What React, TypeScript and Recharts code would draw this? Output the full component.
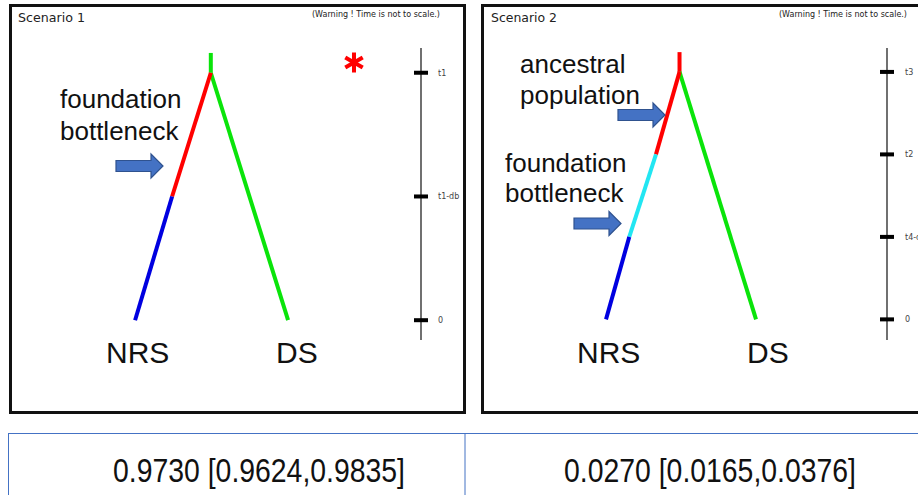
import React from 'react';
import { LineChart, Line, XAxis, YAxis } from 'recharts';

// time ticks on the right-hand scale of each scenario
const scenario1Ticks = [0, 1, 2];
const scenario1TickLabels = ['0', 't1-db', 't1'];
const scenario2Ticks = [0, 1, 2, 3];
const scenario2TickLabels = ['0', 't4-db', 't2', 't3'];

// scenario 1 branches: x = lineage position (NRS = 0, DS = 1), t = time
const s1Stem = [{ x: 0.495, t: 2 }, { x: 0.495, t: 2.16 }];
const s1Ds = [{ x: 0.495, t: 2 }, { x: 1, t: 0 }];
const s1Bottleneck = [{ x: 0.495, t: 2 }, { x: 0.242, t: 1 }];
const s1Nrs = [{ x: 0.242, t: 1 }, { x: 0, t: 0 }];

// scenario 2 branches
const s2Stem = [{ x: 0.49, t: 3 }, { x: 0.49, t: 3.24 }];
const s2Ancestral = [{ x: 0.49, t: 3 }, { x: 0.333, t: 2 }];
const s2Bottleneck = [{ x: 0.333, t: 2 }, { x: 0.155, t: 1 }];
const s2Nrs = [{ x: 0.155, t: 1 }, { x: 0, t: 0 }];
const s2Ds = [{ x: 0.49, t: 3 }, { x: 1, t: 0 }];

// posterior probabilities
const probabilities = ['0.9730 [0.9624,0.9835]', '0.0270 [0.0165,0.0376]'];

const RED = '#ff0000';
const GREEN = '#0ae40a';
const BLUE = '#0000e0';
const CYAN = '#22e6f2';

function makeTick(values: number[], labels: string[], dx: number) {
  return (props: any) => {
    const { x, y, payload } = props;
    const label = labels[values.indexOf(payload.value)] ?? '';
    return (
      <g>
        <rect x={x - 7} y={y - 2} width={14} height={4} fill="#000" />
        <text x={x + dx} y={y + 3} fontSize={8} fontFamily="DejaVu Sans" fill="#444">
          {label}
        </text>
      </g>
    );
  };
}

function Arrow({ x, cy }: { x: number; cy: number }) {
  const len = 47;
  const head = 12;
  const pts = [
    [x, cy - 5.5],
    [x + len - head, cy - 5.5],
    [x + len - head, cy - 12],
    [x + len, cy],
    [x + len - head, cy + 12],
    [x + len - head, cy + 5.5],
    [x, cy + 5.5]
  ]
    .map((p) => p.join(','))
    .join(' ');
  return <polygon points={pts} fill="#4472c4" stroke="#2f528f" strokeWidth={1.2} />;
}

function Branch({ data, color }: { data: { x: number; t: number }[]; color: string }) {
  return (
    <Line
      data={data}
      dataKey="t"
      stroke={color}
      strokeWidth={4}
      dot={false}
      activeDot={false}
      isAnimationActive={false}
    />
  );
}

const bigText = { fontFamily: 'Liberation Sans, Arial, sans-serif', fill: '#111' };

export default function App() {
  return (
    <div
      style={{
        position: 'absolute',
        left: 0,
        top: 0,
        width: 918,
        height: 495,
        overflow: 'hidden',
        background: '#fff'
      }}
    >
      <div style={{ position: 'absolute', left: 28, top: 48 }}>
        <LineChart width={453} height={292} margin={{ top: 0, right: 0, bottom: 0, left: 0 }}>
          <XAxis type="number" dataKey="x" domain={[-0.7, 1.869]} hide allowDataOverflow />
          <YAxis
            orientation="right"
            type="number"
            domain={[-0.16, 2.2]}
            ticks={scenario1Ticks}
            interval={0}
            allowDataOverflow
            width={60}
            tickSize={0}
            tickMargin={0}
            tickLine={false}
            axisLine={{ stroke: '#111', strokeWidth: 1.2 }}
            tick={makeTick(scenario1Ticks, scenario1TickLabels, 17)}
          />
          <Branch data={s1Stem} color={GREEN} />
          <Branch data={s1Ds} color={GREEN} />
          <Branch data={s1Bottleneck} color={RED} />
          <Branch data={s1Nrs} color={BLUE} />
        </LineChart>
      </div>

      <div style={{ position: 'absolute', left: 501, top: 48 }}>
        <LineChart width={446} height={292} margin={{ top: 0, right: 0, bottom: 0, left: 0 }}>
          <XAxis type="number" dataKey="x" domain={[-0.7, 1.873]} hide allowDataOverflow />
          <YAxis
            orientation="right"
            type="number"
            domain={[-0.25, 3.29]}
            ticks={scenario2Ticks}
            interval={0}
            allowDataOverflow
            width={60}
            tickSize={0}
            tickMargin={0}
            tickLine={false}
            axisLine={{ stroke: '#111', strokeWidth: 1.2 }}
            tick={makeTick(scenario2Ticks, scenario2TickLabels, 18)}
          />
          <Branch data={s2Stem} color={RED} />
          <Branch data={s2Ds} color={GREEN} />
          <Branch data={s2Ancestral} color={RED} />
          <Branch data={s2Bottleneck} color={CYAN} />
          <Branch data={s2Nrs} color={BLUE} />
        </LineChart>
      </div>

      <svg
        width={918}
        height={495}
        style={{ position: 'absolute', left: 0, top: 0, pointerEvents: 'none' }}
      >
        {/* panel frames */}
        <rect x={10.5} y={5.5} width={454} height={407} fill="none" stroke="#111" strokeWidth={3} />
        <rect x={482.5} y={5.5} width={500} height={407} fill="none" stroke="#111" strokeWidth={3} />

        {/* scenario 1 */}
        <text x={18} y={22} fontSize={12.5} fontFamily="DejaVu Sans" fill="#222" textLength={67} lengthAdjust="spacingAndGlyphs">
          Scenario 1
        </text>
        <text x={312} y={16.5} fontSize={8.5} fontFamily="DejaVu Sans" fill="#222" textLength={128} lengthAdjust="spacingAndGlyphs">
          (Warning ! Time is not to scale.)
        </text>
        <text x={60} y={108} fontSize={26} {...bigText}>foundation</text>
        <text x={60} y={140} fontSize={26} {...bigText}>bottleneck</text>
        <Arrow x={116} cy={166} />
        <g stroke="#ff0000" strokeWidth={4}>
          <line x1={354} y1={52.5} x2={354} y2={72.5} />
          <line x1={345.3} y1={57.5} x2={362.7} y2={67.5} />
          <line x1={345.3} y1={67.5} x2={362.7} y2={57.5} />
        </g>
        <text x={106} y={363} fontSize={30} {...bigText}>NRS</text>
        <text x={276} y={363} fontSize={30} {...bigText}>DS</text>

        {/* scenario 2 */}
        <text x={491} y={22} fontSize={12.5} fontFamily="DejaVu Sans" fill="#222" textLength={66} lengthAdjust="spacingAndGlyphs">
          Scenario 2
        </text>
        <text x={779} y={16.5} fontSize={8.5} fontFamily="DejaVu Sans" fill="#222" textLength={128} lengthAdjust="spacingAndGlyphs">
          (Warning ! Time is not to scale.)
        </text>
        <text x={520} y={73} fontSize={26} {...bigText}>ancestral</text>
        <text x={520} y={104} fontSize={26} {...bigText}>population</text>
        <text x={505} y={172} fontSize={26} {...bigText}>foundation</text>
        <text x={505} y={202} fontSize={26} {...bigText}>bottleneck</text>
        <Arrow x={618} cy={115} />
        <Arrow x={574} cy={223.5} />
        <text x={577} y={363} fontSize={30} {...bigText}>NRS</text>
        <text x={747} y={363} fontSize={30} {...bigText}>DS</text>

        {/* probability table */}
        <g stroke="#4472c4" strokeWidth={1}>
          <line x1={8} y1={433.5} x2={918} y2={433.5} />
          <line x1={8.5} y1={433} x2={8.5} y2={495} />
          <line x1={465} y1={433} x2={465} y2={495} />
        </g>
        <text x={113} y={482} fontSize={34} {...bigText} textLength={292} lengthAdjust="spacingAndGlyphs">
          {probabilities[0]}
        </text>
        <text x={564} y={482} fontSize={34} {...bigText} textLength={292} lengthAdjust="spacingAndGlyphs">
          {probabilities[1]}
        </text>
      </svg>
    </div>
  );
}
